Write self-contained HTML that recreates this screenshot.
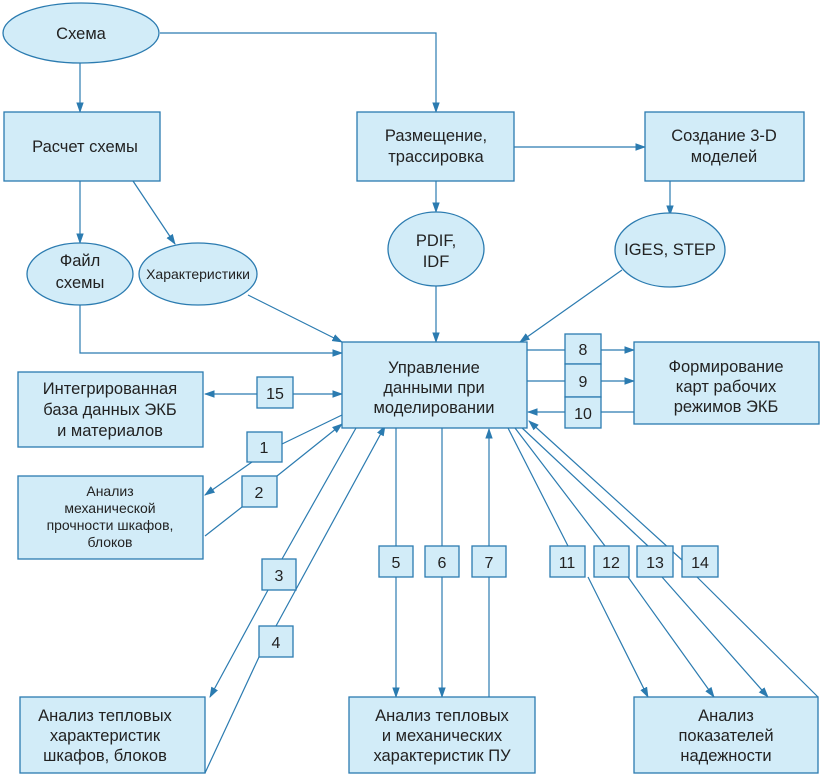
<!DOCTYPE html>
<html><head><meta charset="utf-8"><style>
body{margin:0;background:#fff}
svg{display:block}
text{font-family:"Liberation Sans",sans-serif;font-size:16.5px;fill:#222;text-anchor:middle}
.s{font-size:14px}
.n{font-size:16px}
.b{fill:#d2ecf8;stroke:#2b7bb0;stroke-width:1.3}
.l{stroke:#2b7bb0;stroke-width:1.2;fill:none}
</style></head><body>
<svg width="821" height="776" viewBox="0 0 821 776">
<defs><marker id="a" viewBox="0 0 10 10" refX="9" refY="5" markerWidth="9" markerHeight="9" orient="auto"><path d="M0,1.5 L10,5 L0,8.5 z" fill="#2b7bb0"/></marker></defs>
<g class="l">
<path d="M160,33 H436 V112" marker-end="url(#a)"/>
<path d="M80,62 V112" marker-end="url(#a)"/>
<path d="M80,181 V243" marker-end="url(#a)"/>
<path d="M133,181 L175,244" marker-end="url(#a)"/>
<path d="M514,147 H645" marker-end="url(#a)"/>
<path d="M436,181 V212" marker-end="url(#a)"/>
<path d="M436,286 V342" marker-end="url(#a)"/>
<path d="M670,181 V215" marker-end="url(#a)"/>
<path d="M622,270 L520,342" marker-end="url(#a)"/>
<path d="M248,295 L342,342" marker-end="url(#a)"/>
<path d="M80,304 V353 H342" marker-end="url(#a)"/>
<path d="M257,394 H205" marker-end="url(#a)"/>
<path d="M293,394 H342" marker-end="url(#a)"/>
<path d="M342,415 L282,444"/>
<path d="M252,462 L205,495" marker-end="url(#a)"/>
<path d="M205,536 L242,507"/>
<path d="M277,476 L342,424" marker-end="url(#a)"/>
<path d="M356,428 L282,559"/>
<path d="M268,590 L210,697" marker-end="url(#a)"/>
<path d="M205,773 L259,657"/>
<path d="M276,626 L385,426" marker-end="url(#a)"/>
<path d="M396,428 V546"/><path d="M396,577 V697" marker-end="url(#a)"/>
<path d="M442,428 V546"/><path d="M442,577 V697" marker-end="url(#a)"/>
<path d="M489,697 V577"/><path d="M489,546 V429" marker-end="url(#a)"/>
<path d="M527,350 H565"/><path d="M601,350 H634" marker-end="url(#a)"/>
<path d="M527,381 H565"/><path d="M601,381 H634" marker-end="url(#a)"/>
<path d="M634,412 H601"/><path d="M565,412 H528" marker-end="url(#a)"/>
<path d="M508,428 L568,546"/><path d="M588,577 L648,697" marker-end="url(#a)"/>
<path d="M515,428 L605,546"/><path d="M628,577 L714,697" marker-end="url(#a)"/>
<path d="M520,426 L648,546"/><path d="M662,577 L768,697" marker-end="url(#a)"/>
<path d="M818,697 L697,577"/><path d="M682,560 L529,421" marker-end="url(#a)"/>
</g>
<ellipse class="b" cx="81" cy="33" rx="78" ry="30"/>
<text x="81" y="39">Схема</text>
<rect class="b" x="4" y="112" width="156" height="69"/>
<text x="85" y="152">Расчет схемы</text>
<rect class="b" x="357" y="112" width="157" height="69"/>
<text x="436" y="141">Размещение,</text><text x="436" y="162">трассировка</text>
<rect class="b" x="645" y="112" width="159" height="69"/>
<text x="724" y="141">Создание 3-D</text><text x="724" y="162">моделей</text>
<ellipse class="b" cx="80" cy="274" rx="53" ry="31"/>
<text x="80" y="266">Файл</text><text x="80" y="288">схемы</text>
<ellipse class="b" cx="198" cy="274" rx="59" ry="31"/>
<text class="s" x="198" y="279">Характеристики</text>
<ellipse class="b" cx="436" cy="249" rx="48" ry="37"/>
<text x="436" y="246">PDIF,</text><text x="436" y="267">IDF</text>
<ellipse class="b" cx="670" cy="250" rx="55" ry="37"/>
<text x="670" y="255">IGES, STEP</text>
<rect class="b" x="342" y="342" width="185" height="86"/>
<text x="434" y="373">Управление</text><text x="434" y="393">данными при</text><text x="434" y="413">моделировании</text>
<rect class="b" x="18" y="372" width="185" height="75"/>
<text x="110" y="394">Интегрированная</text><text x="110" y="415">база данных ЭКБ</text><text x="110" y="436">и материалов</text>
<rect class="b" x="18" y="476" width="185" height="83"/>
<text class="s" x="110" y="496">Анализ</text><text class="s" x="110" y="513">механической</text><text class="s" x="110" y="530">прочности шкафов,</text><text class="s" x="110" y="547">блоков</text>
<rect class="b" x="634" y="342" width="185" height="82"/>
<text x="726" y="372">Формирование</text><text x="726" y="392">карт рабочих</text><text x="726" y="412">режимов ЭКБ</text>
<rect class="b" x="20" y="697" width="185" height="76"/>
<text x="105" y="721">Анализ тепловых</text><text x="105" y="741">характеристик</text><text x="105" y="761">шкафов, блоков</text>
<rect class="b" x="349" y="697" width="186" height="76"/>
<text x="442" y="721">Анализ тепловых</text><text x="442" y="741">и механических</text><text x="442" y="761">характеристик ПУ</text>
<rect class="b" x="634" y="697" width="184" height="76"/>
<text x="726" y="721">Анализ</text><text x="726" y="741">показателей</text><text x="726" y="761">надежности</text>
<g class="n">
<rect class="b" x="257" y="377" width="36" height="31"/><text class="n" x="275" y="399">15</text>
<rect class="b" x="247" y="432" width="35" height="30"/><text class="n" x="264" y="453">1</text>
<rect class="b" x="242" y="476" width="35" height="31"/><text class="n" x="259" y="498">2</text>
<rect class="b" x="262" y="559" width="34" height="31"/><text class="n" x="279" y="581">3</text>
<rect class="b" x="259" y="626" width="34" height="31"/><text class="n" x="276" y="648">4</text>
<rect class="b" x="379" y="546" width="34" height="31"/><text class="n" x="396" y="568">5</text>
<rect class="b" x="425" y="546" width="34" height="31"/><text class="n" x="442" y="568">6</text>
<rect class="b" x="472" y="546" width="34" height="31"/><text class="n" x="489" y="568">7</text>
<rect class="b" x="550" y="546" width="35" height="31"/><text class="n" x="567" y="568">11</text>
<rect class="b" x="594" y="546" width="35" height="31"/><text class="n" x="611" y="568">12</text>
<rect class="b" x="637" y="546" width="36" height="31"/><text class="n" x="655" y="568">13</text>
<rect class="b" x="682" y="546" width="36" height="31"/><text class="n" x="700" y="568">14</text>
<rect class="b" x="565" y="334" width="36" height="30"/><text class="n" x="583" y="355">8</text>
<rect class="b" x="565" y="364" width="36" height="33"/><text class="n" x="583" y="387">9</text>
<rect class="b" x="565" y="397" width="36" height="31"/><text class="n" x="583" y="419">10</text>
</g>
</svg>
</body></html>
